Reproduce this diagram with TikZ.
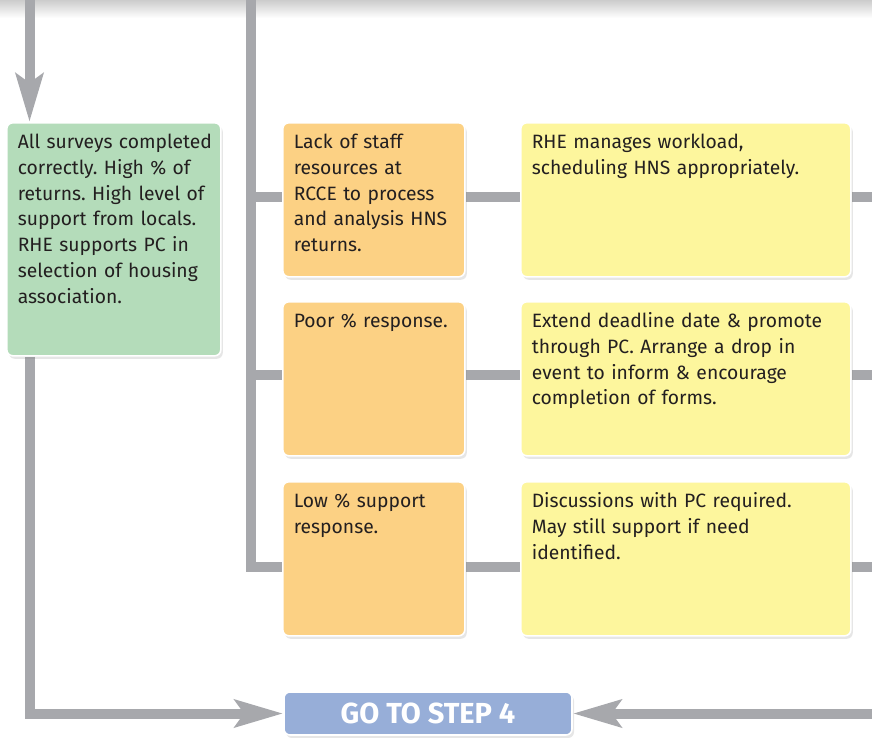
\documentclass[tikz,border=0pt]{standalone}
\usepackage{fontspec}
\setmainfont{Fira Sans}
\usepackage{xcolor}
\usetikzlibrary{arrows.meta,shadows,backgrounds}
\definecolor{okgreen}{HTML}{B4DCBA}
\definecolor{probfill}{HTML}{FCD184}
\definecolor{actfill}{HTML}{FDF69D}
\definecolor{gofill}{HTML}{97AED8}
\definecolor{pipegray}{HTML}{A7A8AC}
\definecolor{txtgray}{HTML}{231F20}
\frenchspacing
\begin{document}
\begin{tikzpicture}[x=1pt,y=-1pt,
	card/.style 2 args={anchor=north west, draw=white, line width=1.6pt, rounded corners=6pt,
		align=left, inner xsep=11pt, inner ysep=14pt, text width=#1, text height=12pt, text depth=#2,
		font=\fontsize{19.3}{25.7}\selectfont, text=txtgray,
		drop shadow={shadow xshift=2pt,shadow yshift=-3pt,opacity=.2}},
	pipe/.style={draw=pipegray, line width=10pt},
	arr/.style={pipe, -{Stealth[length=48pt,width=27pt,inset=9pt]}}]
	\useasboundingbox (0,0) rectangle (872,737);
	% Kästen
	\node[card={192pt}{193pt}, fill=okgreen] (ok) at (6,122) {\mbox{All surveys completed}\\correctly. High \% of\\returns. High level of\\support from locals.\\RHE supports PC in\\selection of housing\\association.};
	\node[card={160pt}{114pt}, fill=probfill] (prob1) at (282,122) {Lack of staff\\resources at\\RCCE to process\\and analysis HNS\\returns.};
	\node[card={160pt}{114pt}, fill=probfill] (prob2) at (282,301) {Poor \% response.};
	\node[card={160pt}{114pt}, fill=probfill] (prob3) at (282,481) {Low \% support\\response.};
	\node[card={308pt}{114pt}, fill=actfill] (act1) at (520,122) {RHE manages workload,\\scheduling HNS appropriately.};
	\node[card={308pt}{114pt}, fill=actfill] (act2) at (520,301) {Extend deadline date \& promote\\through PC. Arrange a drop in\\event to inform \& encourage\\completion of forms.};
	\node[card={308pt}{114pt}, fill=actfill] (act3) at (520,481) {Discussions with PC required.\\May still support if need\\identified.};
	\node[draw=white, line width=1.6pt, rounded corners=6pt, fill=gofill, minimum width=288pt, minimum height=43pt,
		text=white, font=\fontsize{29}{29}\selectfont\bfseries,
		drop shadow={shadow xshift=2pt,shadow yshift=-3pt,opacity=.2}] (go) at (428,713.5) {GO TO STEP 4};
	% Linien
	\coordinate (topL) at (29.5,0);
	\coordinate (spine) at (251,0);
	\coordinate (edge) at (872,0);
	\coordinate (b1) at (251,197);
	\coordinate (b2) at (251,375);
	\coordinate (b3) at (251,567);
	\begin{scope}[on background layer]
		\shade[top color=black!20, bottom color=white] (0,0) rectangle (872,18);
		\draw[arr] (topL) -- (topL |- ok.north);
		\draw[arr] (topL |- ok.south) -- (topL |- go.west) -- (go.west);
		\draw[arr] (go.east -| edge) -- (go.east);
		\draw[pipe] (spine) -- (b3) -- (b3 -| prob3.west);
		\foreach \i in {1,2,3}
		{
			\draw[pipe] (b\i) -- (b\i -| prob\i.west);
			\draw[pipe] (b\i -| prob\i.east) -- (b\i -| act\i.west);
			\draw[pipe] (b\i -| act\i.east) -- (b\i -| edge);
		}
	\end{scope}
\end{tikzpicture}
\end{document}
